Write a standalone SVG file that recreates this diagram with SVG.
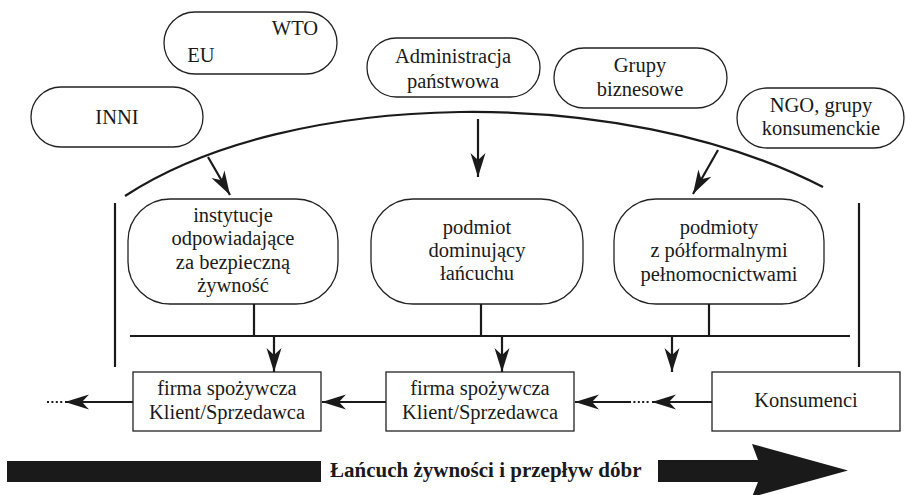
<svg xmlns="http://www.w3.org/2000/svg" width="906" height="495" viewBox="0 0 906 495">
<style>
.pill{fill:#fff;stroke:#222;stroke-width:1.3}
.box{fill:#fff;stroke:#222;stroke-width:1.3}
.t{font-size:20.5px;fill:#1a1a1a;text-anchor:middle}
.b{font-size:21px;font-weight:bold;fill:#1a1a1a}
.ln{fill:none;stroke:#1a1a1a;stroke-width:2.2}
.arr{fill:none;stroke:#1a1a1a;stroke-width:2.2;marker-end:url(#ah)}
.dots{fill:none;stroke:#1a1a1a;stroke-width:2;stroke-dasharray:2 2.4}
</style>
<defs>
<marker id="ah" viewBox="-25 -8 26 16" refX="0" refY="0" markerWidth="26" markerHeight="16" markerUnits="userSpaceOnUse" orient="auto">
<path d="M0,0 L-24,-7.5 L-17,0 L-24,7.5 Z" fill="#1a1a1a"/>
</marker>
</defs>
<rect width="906" height="495" fill="#fff"/>
<g font-family="Liberation Serif, Times New Roman, serif">
<g id="node-eu-wto">
<rect class="pill" x="164" y="12" width="173" height="62" rx="31"/>
<text class="t" x="295" y="35">WTO</text>
<text class="t" x="201" y="62">EU</text>
</g>
<g id="node-inni">
<rect class="pill" x="31" y="87" width="172" height="60" rx="30"/>
<text class="t" x="117" y="124">INNI</text>
</g>
<g id="node-admin">
<rect class="pill" x="367" y="38" width="173" height="59" rx="29.5"/>
<text class="t" x="453" y="63">Administracja</text>
<text class="t" x="453" y="88">państwowa</text>
</g>
<g id="node-grupy">
<rect class="pill" x="554" y="48" width="173" height="60" rx="30"/>
<text class="t" x="640" y="72">Grupy</text>
<text class="t" x="640" y="96">biznesowe</text>
</g>
<g id="node-ngo">
<rect class="pill" x="737" y="88" width="167" height="60" rx="30"/>
<text class="t" x="821" y="112">NGO, grupy</text>
<text class="t" x="821" y="135">konsumenckie</text>
</g>

<g id="node-instytucje">
<rect class="pill" x="128" y="199" width="210" height="105" rx="42"/>
<text class="t" x="233" y="222">instytucje</text>
<text class="t" x="233" y="245">odpowiadające</text>
<text class="t" x="233" y="269">za bezpieczną</text>
<text class="t" x="233" y="292">żywność</text>
</g>
<g id="node-podmiot">
<rect class="pill" x="371" y="199" width="212" height="105" rx="42"/>
<text class="t" x="477" y="234">podmiot</text>
<text class="t" x="477" y="257">dominujący</text>
<text class="t" x="477" y="280">łańcuchu</text>
</g>
<g id="node-podmioty">
<rect class="pill" x="614" y="199" width="210" height="105" rx="42"/>
<text class="t" x="719" y="234">podmioty</text>
<text class="t" x="719" y="257">z półformalnymi</text>
<text class="t" x="719" y="281">pełnomocnictwami</text>
</g>

<g id="node-firma1">
<rect class="box" x="133" y="372" width="188" height="59"/>
<text class="t" x="227" y="395">firma spożywcza</text>
<text class="t" x="227" y="419">Klient/Sprzedawca</text>
</g>
<g id="node-firma2">
<rect class="box" x="386" y="372" width="188" height="59"/>
<text class="t" x="480" y="395">firma spożywcza</text>
<text class="t" x="480" y="419">Klient/Sprzedawca</text>
</g>
<g id="node-konsumenci">
<rect class="box" x="712" y="372" width="188" height="59"/>
<text class="t" x="806" y="407">Konsumenci</text>
</g>

<g id="connectors">
<path class="ln" d="M125,196 C290,88 620,83 823,187"/>
<line class="arr" x1="208" y1="157" x2="230" y2="195"/>
<line class="arr" x1="478" y1="119" x2="478" y2="177"/>
<line class="arr" x1="718" y1="150" x2="693" y2="194"/>
<line class="ln" x1="115" y1="203" x2="115" y2="367"/>
<line class="ln" x1="859" y1="203" x2="859" y2="367"/>
<line class="ln" x1="254" y1="304" x2="254" y2="336"/>
<line class="ln" x1="481" y1="304" x2="481" y2="336"/>
<line class="ln" x1="709" y1="304" x2="709" y2="336"/>
<line class="ln" x1="130" y1="336" x2="850" y2="336"/>
<line class="arr" x1="274" y1="336" x2="274" y2="372"/>
<line class="arr" x1="502" y1="336" x2="502" y2="372"/>
<line class="arr" x1="672" y1="336" x2="672" y2="372"/>
<line class="arr" x1="133" y1="402" x2="65" y2="402"/>
<line class="dots" x1="47" y1="402" x2="64" y2="402"/>
<line class="arr" x1="386" y1="402" x2="322" y2="402"/>
<line class="arr" x1="712" y1="402" x2="652" y2="402"/>
<line class="dots" x1="629" y1="402" x2="650" y2="402"/>
<line class="arr" x1="629" y1="402" x2="575" y2="402"/>
</g>

<g id="flow">
<rect x="7" y="461" width="314" height="21" fill="#1a1a1a"/>
<text class="b" x="330" y="477">Łańcuch żywności i przepływ dóbr</text>
<polygon points="658,460 758,460 752,444 848,470.5 752,497 758,482 658,482" fill="#1a1a1a"/>
</g>
</g>
</svg>
